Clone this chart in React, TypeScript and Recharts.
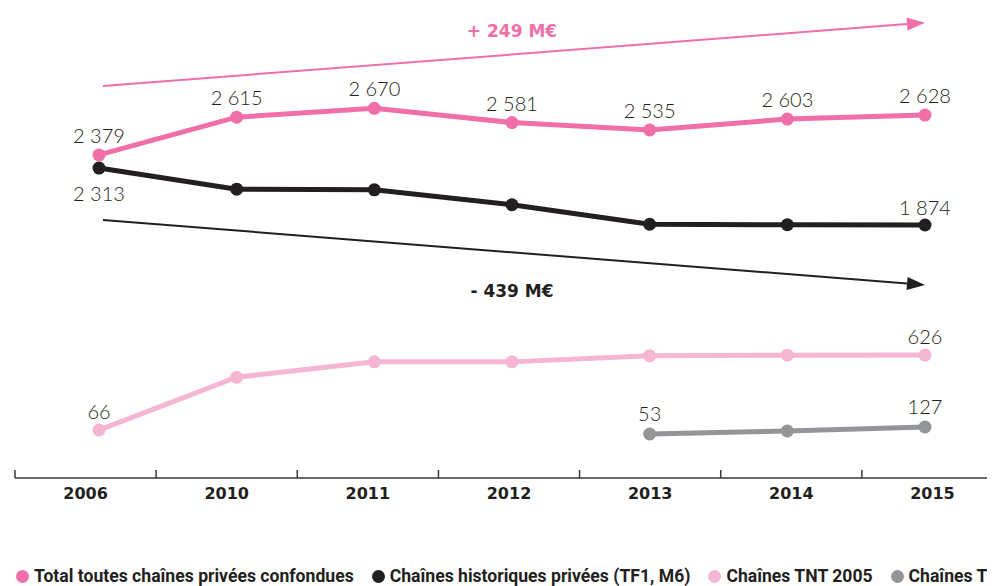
import React from 'react';
import { LineChart, Line, XAxis, YAxis, LabelList, ReferenceLine } from 'recharts';

// Recettes publicitaires des chaînes privées (M€)
const years = ['2006', '2010', '2011', '2012', '2013', '2014', '2015'];
const totalPrivees = [2379, 2615, 2670, 2581, 2535, 2603, 2628];
const historiques = [2313, 2150, 2145, 2030, 1880, 1876, 1874];
const tnt2005 = [66, 460, 575, 575, 620, 625, 626];
const tnt2012: (number | null)[] = [null, null, null, null, 53, 85, 127];

// which points carry a value label
const totalLabelled = [0, 1, 2, 3, 4, 5, 6];
const histBelowLabelled = [0];
const histAboveLabelled = [6];
const tnt2005Labelled = [0, 6];
const tnt2012Labelled = [4, 6];

// trend arrows (start / end values on the series axis)
const totalTrend = { label: '+ 249 M€', from: 2810, to: 3205 };
const histTrend = { label: '- 439 M€', from: 1913, to: 1412 };

const PINK = '#f06fa9';
const BLACK = '#231f20';
const LIGHT = '#f5b6d4';
const GREY = '#939598';

const legendItems = [
  { name: 'Total toutes chaînes privées confondues', color: PINK },
  { name: 'Chaînes historiques privées (TF1, M6)', color: BLACK },
  { name: 'Chaînes TNT 2005', color: LIGHT },
  { name: 'Chaînes TNT 2012', color: GREY },
];

const CHART_W = 995;
const MARGIN_L = 7;
const PLOT_W = CHART_W - MARGIN_L;

const pick = (arr: (number | null)[], idx: number[], i: number) => (idx.includes(i) ? arr[i] : null);

const data = years.map((year, i) => ({
  year,
  total: totalPrivees[i],
  hist: historiques[i],
  tnt05: tnt2005[i],
  tnt12: tnt2012[i],
  totalLbl: pick(totalPrivees, totalLabelled, i),
  histBelow: pick(historiques, histBelowLabelled, i),
  histAbove: pick(historiques, histAboveLabelled, i),
  tnt05Lbl: pick(tnt2005, tnt2005Labelled, i),
  tnt12Lbl: pick(tnt2012, tnt2012Labelled, i),
}));

const fmt = (v: number) => String(v).replace(/\B(?=(\d{3})+(?!\d))/g, ' ');

const valueLabel = (dy: number) => (props: any) => {
  const { value } = props;
  if (value == null) return null;
  const x = props.x ?? props.viewBox?.x;
  const y = props.y ?? props.viewBox?.y;
  return (
    <text
      x={x}
      y={y + dy}
      textAnchor="middle"
      dominantBaseline="central"
      fontFamily="Lato, 'DejaVu Sans', sans-serif"
      fontWeight={300}
      fontSize={20}
      fill="#231f20"
    >
      {fmt(value)}
    </text>
  );
};

const BandTick = (props: any) => {
  const { x, y, payload } = props;
  const bw = PLOT_W / years.length;
  return (
    <g>
      <line x1={x - bw / 2} x2={x - bw / 2} y1={y - 8} y2={y} stroke="#3a3a3a" strokeWidth={1.5} />
      <text
        x={x}
        y={y + 15}
        textAnchor="middle"
        dominantBaseline="central"
        fontFamily="'DejaVu Sans', sans-serif"
        fontWeight="bold"
        fontSize={16}
        fill="#231f20"
      >
        {payload.value}
      </text>
    </g>
  );
};

const arrowShape = (color: string, text: string, textDy: number) => (props: any) => {
  const { x1, y1, x2, y2 } = props;
  const ang = Math.atan2(y2 - y1, x2 - x1);
  const len = 18;
  const half = 6.5;
  const bx = x2 - len * Math.cos(ang);
  const by = y2 - len * Math.sin(ang);
  const px = -Math.sin(ang) * half;
  const py = Math.cos(ang) * half;
  return (
    <g>
      <line x1={x1 + 4} y1={y1} x2={bx} y2={by} stroke={color} strokeWidth={2} />
      <polygon points={`${x2},${y2} ${bx + px},${by + py} ${bx - px},${by - py}`} fill={color} />
      <text
        x={(x1 + x2) / 2}
        y={(y1 + y2) / 2 + textDy}
        textAnchor="middle"
        dominantBaseline="central"
        fontFamily="'DejaVu Sans', sans-serif"
        fontWeight="bold"
        fontSize={17}
        fill={color}
      >
        {text}
      </text>
    </g>
  );
};

const dot = (color: string) => ({ r: 6.5, fill: color, stroke: color, strokeWidth: 0 });

const Legend = () => (
  <div
    style={{
      display: 'flex',
      alignItems: 'center',
      whiteSpace: 'nowrap',
      marginTop: 56,
      paddingLeft: 8,
      fontFamily: "Roboto, 'DejaVu Sans', sans-serif",
      fontWeight: 'bold',
      fontSize: 17.6,
      color: '#231f20',
      height: 24,
    }}
  >
    {legendItems.map((it) => (
      <div key={it.name} style={{ display: 'flex', alignItems: 'center', marginRight: 18, flexShrink: 0 }}>
        <span
          style={{
            display: 'inline-block',
            width: 13,
            height: 13,
            borderRadius: '50%',
            background: it.color,
            marginRight: 5,
          }}
        />
        <span>{it.name}</span>
      </div>
    ))}
  </div>
);

export default function App() {
  return (
    <div style={{ width: 987, height: 578, overflow: 'hidden', background: '#fff' }}>
      <LineChart width={CHART_W} height={500} data={data} margin={{ top: 0, right: 0, bottom: 0, left: MARGIN_L }}>
        <XAxis
          xAxisId="band"
          dataKey="year"
          scale="band"
          height={30}
          tickSize={0}
          tickMargin={0}
          tickLine={false}
          axisLine={{ stroke: '#3a3a3a', strokeWidth: 1.5 }}
          tick={<BandTick />}
          interval={0}
        />
        <XAxis xAxisId="pt" dataKey="year" hide padding={{ left: 84, right: 78 }} />
        <YAxis yAxisId="total" hide domain={[360, 3297]} />
        <YAxis yAxisId="hist" hide domain={[-75, 3546]} />
        <YAxis yAxisId="tnt05" hide domain={[-292, 3217]} />
        <YAxis yAxisId="tnt12" hide domain={[-412, 4556]} />

        <ReferenceLine
          xAxisId="pt"
          yAxisId="total"
          segment={[
            { x: years[0], y: totalTrend.from },
            { x: years[years.length - 1], y: totalTrend.to },
          ]}
          ifOverflow="visible"
          shape={arrowShape(PINK, totalTrend.label, -23)}
        />
        <ReferenceLine
          xAxisId="pt"
          yAxisId="hist"
          segment={[
            { x: years[0], y: histTrend.from },
            { x: years[years.length - 1], y: histTrend.to },
          ]}
          ifOverflow="visible"
          shape={arrowShape(BLACK, histTrend.label, 39)}
        />

        <Line
          xAxisId="pt"
          yAxisId="tnt12"
          dataKey="tnt12"
          stroke={GREY}
          strokeWidth={5}
          dot={dot(GREY)}
          activeDot={false}
          isAnimationActive={false}
        >
          <LabelList dataKey="tnt12Lbl" content={valueLabel(-21)} />
        </Line>
        <Line
          xAxisId="pt"
          yAxisId="tnt05"
          dataKey="tnt05"
          stroke={LIGHT}
          strokeWidth={5}
          dot={dot(LIGHT)}
          activeDot={false}
          isAnimationActive={false}
        >
          <LabelList dataKey="tnt05Lbl" content={valueLabel(-19)} />
        </Line>
        <Line
          xAxisId="pt"
          yAxisId="hist"
          dataKey="hist"
          stroke={BLACK}
          strokeWidth={5}
          dot={dot(BLACK)}
          activeDot={false}
          isAnimationActive={false}
        >
          <LabelList dataKey="histBelow" content={valueLabel(25)} />
          <LabelList dataKey="histAbove" content={valueLabel(-18)} />
        </Line>
        <Line
          xAxisId="pt"
          yAxisId="total"
          dataKey="total"
          stroke={PINK}
          strokeWidth={5}
          dot={dot(PINK)}
          activeDot={false}
          isAnimationActive={false}
        >
          <LabelList dataKey="totalLbl" content={valueLabel(-20)} />
        </Line>
      </LineChart>
      <Legend />
    </div>
  );
}
